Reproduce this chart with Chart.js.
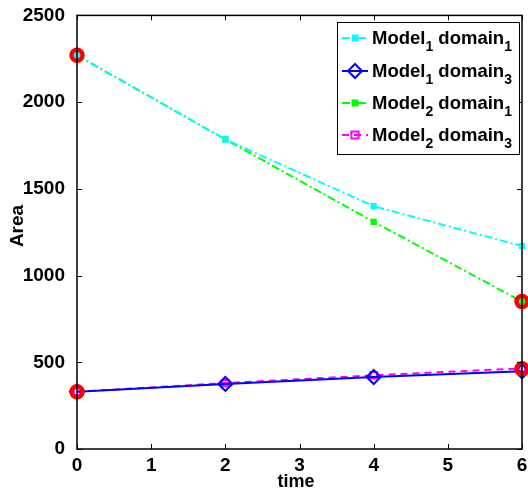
<!DOCTYPE html>
<html><head><meta charset="utf-8">
<script src="https://cdn.jsdelivr.net/npm/chart.js@4"></script>
<style>html,body{margin:0;padding:0;background:#fff}#wrap{width:528px;height:492px}</style>
</head><body><div id="wrap"><canvas id="c" width="528" height="492"></canvas></div>
<script>
const times = [0, 2, 4, 6];
const model1Domain1 = [2270, 1785, 1400, 1170];
const model1Domain3 = [330, 375, 415, 448];
const model2Domain1 = [2270, 1785, 1310, 850];
const model2Domain3 = [330, 380, 425, 465];
const highlightPoints = [[0, 2270], [0, 330], [6, 850], [6, 462]];
const xTicks = [0, 1, 2, 3, 4, 5, 6];
const yTicks = [0, 500, 1000, 1500, 2000, 2500];
const xTitle = 'time';
const yTitle = 'Area';
const legendEntries = [
  {model: '1', domain: '1'},
  {model: '1', domain: '3'},
  {model: '2', domain: '1'},
  {model: '2', domain: '3'}
];

const FONT = '"Liberation Sans", Arial, Helvetica, sans-serif';
const pts = arr => times.map((t, i) => ({x: t, y: arr[i]}));

const styles = [
  {color: '#00ffff', dash: [8, 3, 2, 3], shape: 'rect', r: 3, fill: '#00ffff'},
  {color: '#0000ff', dash: [], shape: 'rectRot', r: 7, fill: 'rgba(0,0,0,0)'},
  {color: '#00ff00', dash: [8, 3, 2, 3], shape: 'rect', r: 3, fill: '#00ff00'},
  {color: '#ff00ff', dash: [7, 5], shape: 'rect', r: 4.5, fill: 'rgba(0,0,0,0)'}
];
const series = [model1Domain1, model1Domain3, model2Domain1, model2Domain3];

const datasets = series.map((s, i) => ({
  type: 'line',
  data: pts(s),
  borderColor: styles[i].color,
  borderDash: styles[i].dash,
  borderWidth: 2,
  pointStyle: styles[i].shape,
  pointRadius: styles[i].r,
  pointBackgroundColor: styles[i].fill,
  pointBorderColor: styles[i].color,
  pointBorderWidth: 2,
  fill: false,
  tension: 0,
  clip: false
}));
datasets.push({
  type: 'scatter',
  data: highlightPoints.map(p => ({x: p[0], y: p[1]})),
  showLine: false,
  pointStyle: 'circle',
  pointRadius: 5.5,
  pointBorderWidth: 4.5,
  pointBorderColor: '#ff0000',
  pointBackgroundColor: 'rgba(0,0,0,0)',
  clip: false,
  order: -1
});

const framePlugin = {
  id: 'frame',
  afterDraw(chart) {
    const {ctx, chartArea: a, scales} = chart;
    ctx.save();
    ctx.strokeStyle = '#000';
    ctx.lineWidth = 1.5;
    ctx.setLineDash([]);
    ctx.strokeRect(a.left, a.top, a.right - a.left, a.bottom - a.top);
    ctx.lineWidth = 1;
    const tl = 5;
    ctx.beginPath();
    xTicks.forEach(v => {
      const x = Math.round(scales.x.getPixelForValue(v)) + 0.5;
      ctx.moveTo(x, a.bottom); ctx.lineTo(x, a.bottom - tl);
      ctx.moveTo(x, a.top); ctx.lineTo(x, a.top + tl);
    });
    yTicks.forEach(v => {
      const y = Math.round(scales.y.getPixelForValue(v)) + 0.5;
      ctx.moveTo(a.left, y); ctx.lineTo(a.left + tl, y);
      ctx.moveTo(a.right, y); ctx.lineTo(a.right - tl, y);
    });
    ctx.stroke();

    // x tick labels
    ctx.fillStyle = '#000';
    ctx.font = 'bold 19px ' + FONT;
    ctx.textAlign = 'center';
    ctx.textBaseline = 'middle';
    xTicks.forEach(v => {
      ctx.fillText(String(v), scales.x.getPixelForValue(v), 466);
    });

    // axis titles
    ctx.font = 'bold 18px ' + FONT;
    ctx.fillText(xTitle, 296, 482);
    ctx.save();
    ctx.font = 'bold 19px ' + FONT;
    ctx.translate(18, 226);
    ctx.rotate(-Math.PI / 2);
    ctx.fillText(yTitle, 0, 0);
    ctx.restore();

    // legend
    const bx = 337, by = 22, bw = 182, bh = 132;
    ctx.fillStyle = '#fff';
    ctx.fillRect(bx, by, bw, bh);
    ctx.lineWidth = 1;
    ctx.strokeStyle = '#000';
    ctx.strokeRect(bx + 0.5, by + 0.5, bw, bh);
    const rowY = [38, 71, 103, 135];
    legendEntries.forEach((e, i) => {
      const st = styles[i];
      const y = rowY[i];
      ctx.save();
      ctx.strokeStyle = st.color;
      ctx.lineWidth = 2;
      ctx.setLineDash(st.dash);
      ctx.beginPath();
      ctx.moveTo(342, y); ctx.lineTo(368, y);
      ctx.stroke();
      ctx.setLineDash([]);
      ctx.fillStyle = st.fill;
      ctx.lineWidth = 2;
      const cx = 355;
      ctx.beginPath();
      if (st.shape === 'rectRot') {
        ctx.moveTo(cx, y - st.r); ctx.lineTo(cx + st.r, y); ctx.lineTo(cx, y + st.r); ctx.lineTo(cx - st.r, y); ctx.closePath();
      } else {
        const s = st.r * 0.8;
        ctx.rect(cx - s, y - s, 2 * s, 2 * s);
      }
      ctx.fill(); ctx.stroke();
      ctx.restore();

      ctx.fillStyle = '#000';
      ctx.textBaseline = 'alphabetic';
      ctx.textAlign = 'left';
      let x = 372;
      const base = y + 6;
      const big = 'bold 18.5px ' + FONT, small = 'bold 14px ' + FONT;
      const put = (txt, f, dy) => { ctx.font = f; ctx.fillText(txt, x, base + dy); x += ctx.measureText(txt).width; };
      put('Model', big, 0);
      put(e.model, small, 7);
      put(' domain', big, 0);
      put(e.domain, small, 7);
    });
    ctx.restore();
  }
};

const tickFont = {family: FONT, size: 19, weight: 'bold'};

new Chart(document.getElementById('c'), {
  type: 'line',
  data: {datasets},
  plugins: [framePlugin],
  options: {
    responsive: false,
    animation: false,
    devicePixelRatio: 1,
    layout: {autoPadding: false, padding: {left: 0, top: 15, right: 6, bottom: 0}},
    plugins: {legend: {display: false}, tooltip: {enabled: false}},
    scales: {
      x: {
        type: 'linear', min: 0, max: 6,
        afterBuildTicks: s => { s.ticks = xTicks.map(v => ({value: v})); },
        afterFit: s => { s.height = 43; },
        grid: {display: false},
        border: {display: false},
        ticks: {display: false}
      },
      y: {
        type: 'linear', min: 0, max: 2500,
        afterBuildTicks: s => { s.ticks = yTicks.map(v => ({value: v})); },
        afterFit: s => { s.width = 77; },
        grid: {display: false},
        border: {display: false},
        ticks: {color: '#000', font: tickFont, padding: 4, callback: v => String(v)}
      }
    }
  }
});
</script>
</body></html>
